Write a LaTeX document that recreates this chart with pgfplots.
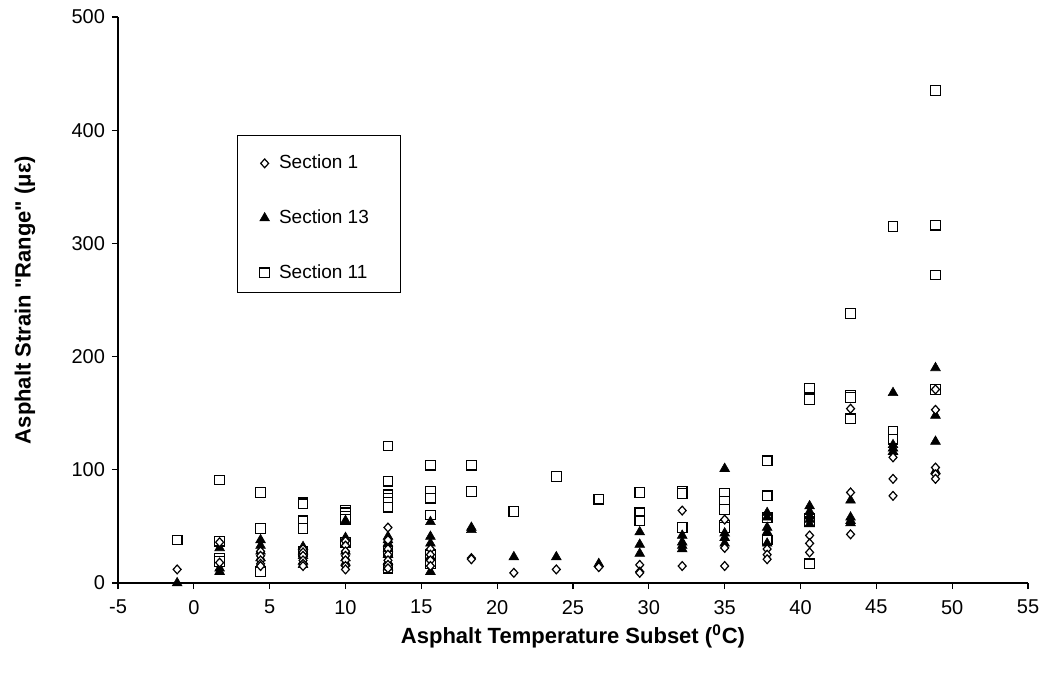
\documentclass[border=0pt]{standalone}
\usepackage{fontspec}
\setmainfont{Liberation Sans}
\usepackage{pgfplots}
\pgfplotsset{compat=1.18}

% Section 1 (diamonds)
\pgfplotstableread{
x y
-1.1 12
1.7 36
1.7 18
4.4 28
4.4 24
4.4 20
4.4 17
4.4 15
7.2 30
7.2 27
7.2 24
7.2 20
7.2 17
7.2 15
10 37
10 33
10 28
10 24
10 20
10 15
10 12
12.8 49
12.8 38
12.8 30
12.8 25
12.8 20
12.8 16
12.8 13
15.6 30
15.6 25
15.6 20
15.6 15
18.3 22
18.3 21
21.1 9
23.9 12
26.7 14
29.4 16
29.4 10
29.4 9
32.2 64
32.2 15
35 56
35 31
35 15
37.8 30
37.8 25
37.8 21
40.6 42
40.6 35
40.6 27
43.3 154
43.3 80
43.3 43
46.1 111
46.1 92
46.1 77
48.9 171
48.9 153
48.9 102
48.9 96
48.9 92
}\secone

% Section 13 (triangles)
\pgfplotstableread{
x y
-1.1 0
1.7 31
1.7 13
1.7 10
4.4 38
4.4 33
4.4 28
4.4 22
4.4 16
7.2 32
7.2 28
7.2 24
7.2 19
7.2 16
10 55
10 40
10 34
10 28
10 22
10 18
12.8 41
12.8 38
12.8 35
12.8 30
12.8 25
12.8 19
12.8 14
15.6 54
15.6 41
15.6 35
15.6 23
15.6 10
18.3 49
18.3 47
21.1 23
23.9 23
26.7 17
29.4 45
29.4 34
29.4 26
32.2 42
32.2 36
32.2 33
32.2 30
35 101
35 44
35 40
35 35
37.8 62
37.8 58
37.8 49
37.8 45
37.8 35
40.6 68
40.6 63
40.6 59
40.6 56
40.6 52
43.3 73
43.3 58
43.3 55
43.3 53
46.1 168
46.1 122
46.1 119
46.1 116
48.9 190
48.9 148
48.9 125
48.9 99
}\secthirteen

% Section 11 (squares)
\pgfplotstableread{
x y
-1.1 38
1.7 91
1.7 37
1.7 22
1.7 19
4.4 80
4.4 48
4.4 10
7.2 71
7.2 70
7.2 55
7.2 48
7.2 28
10 64
10 62
10 59
10 56
10 36
12.8 121
12.8 90
12.8 78
12.8 75
12.8 71
12.8 67
12.8 28
12.8 13
15.6 104
15.6 81
15.6 75
15.6 60
15.6 25
15.6 17
18.3 104
18.3 81
21.1 63
23.9 94
26.7 74
29.4 80
29.4 62
29.4 55
32.2 81
32.2 79
32.2 49
35 79
35 72
35 65
35 51
35 49
37.8 108
37.8 77
37.8 58
37.8 38
40.6 172
40.6 162
40.6 57
40.6 54
40.6 17
43.3 238
43.3 166
43.3 164
43.3 145
46.1 315
46.1 134
46.1 127
48.9 435
48.9 316
48.9 272
48.9 171
}\seceleven

\begin{document}
\begin{tikzpicture}
\begin{axis}[
    at={(0,0)}, anchor=south west,
    scale only axis,
    width=455pt, height=283pt,
    xmin=-5, xmax=55,
    ymin=0, ymax=500,
    xtick={-5,0,...,55},
    ytick={0,100,...,500},
    axis lines*=left,
    tick align=outside,
    major tick length=3pt,
    tick style={black, line width=0.6pt},
    axis line style={line width=0.6pt},
    /pgf/number format/assume math mode=true,
    ticklabel style={font=\fontsize{10}{12}\selectfont},
    xticklabel style={yshift=-2pt},
    xlabel={Asphalt Temperature Subset (\textsuperscript{0}C)},
    ylabel={Asphalt Strain \textquotedbl Range\textquotedbl{} (με)},
    label style={font=\fontsize{11}{13}\selectfont\bfseries},
    xlabel style={at={(axis description cs:0.5,-0.0936)}, anchor=center},
    ylabel style={at={(axis description cs:-0.1022,0.5)}, anchor=center},
    reverse legend,
    legend style={
        draw=none, fill=none,
        at={(axis description cs:0.1515,0.764)}, anchor=north west,
        font=\fontsize{9.5}{11}\selectfont,
        row sep=15pt,
        inner sep=0pt,
        cells={anchor=west}
    },
    legend image code/.code={\draw[#1] plot coordinates {(4pt,0pt)}; \path (0pt,0pt) (9pt,0pt);},
]
\addplot[only marks, mark=square*, mark size=2.4pt,
    mark options={fill=white, draw=black, line width=0.6pt}] table[x=x,y=y] {\seceleven};
\addlegendentry{Section 11}
\addplot[only marks, mark=triangle*, mark size=2.8pt,
    mark options={fill=black, draw=black, line width=0.3pt}] table[x=x,y=y] {\secthirteen};
\addlegendentry{Section 13}
\addplot[only marks, mark=diamond*, mark size=2.2pt,
    mark options={fill=white, draw=black, line width=0.6pt, xscale=1.2}] table[x=x,y=y] {\secone};
\addlegendentry{Section 1}
\draw[line width=0.5pt] (axis description cs:0.1308,0.7915) rectangle (axis description cs:0.3099,0.5141);
\end{axis}
\pgfresetboundingbox
\path[use as bounding box] (-59pt,-49pt) rectangle (463pt,291.5pt);
\end{tikzpicture}
\end{document}
